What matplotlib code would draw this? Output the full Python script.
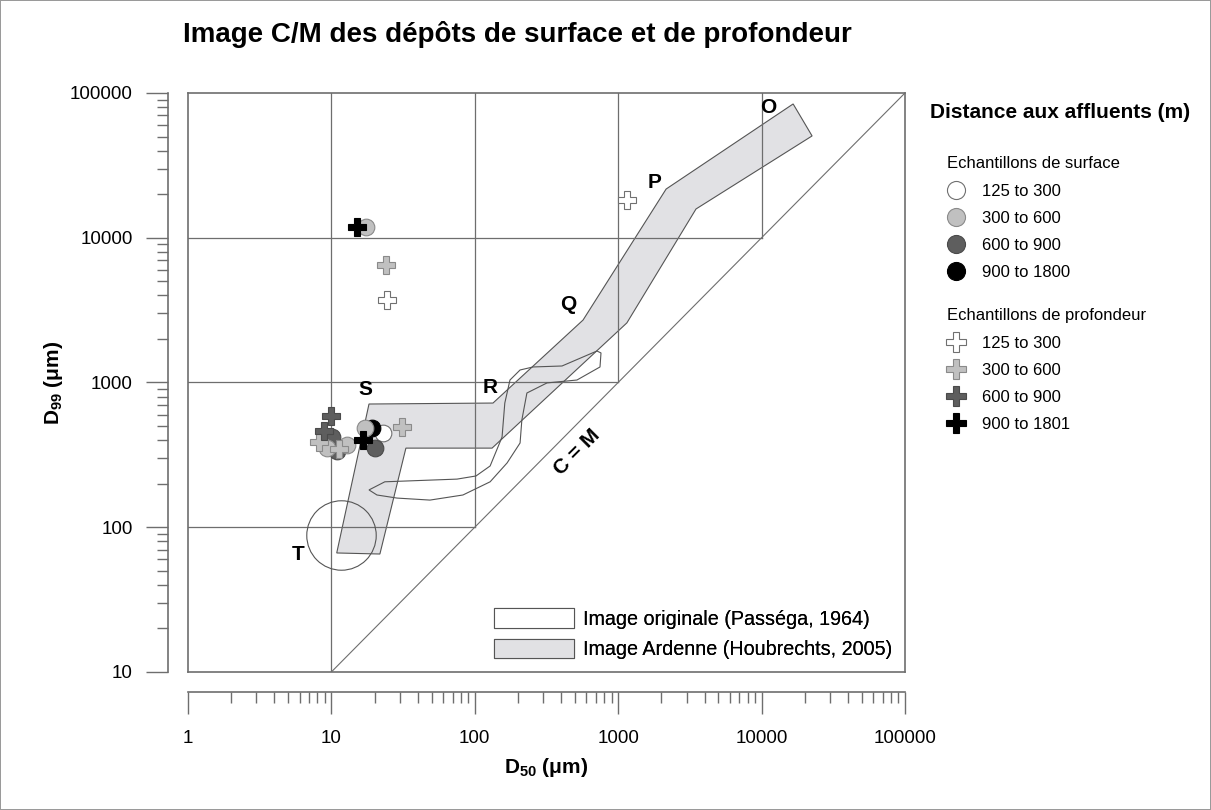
import matplotlib.pyplot as plt
from matplotlib.lines import Line2D
from matplotlib.patches import Polygon, Patch
from matplotlib.ticker import LogLocator, NullFormatter, FuncFormatter

plt.rcParams["font.family"] = ["Liberation Sans", "DejaVu Sans"]
plt.rcParams["mathtext.fontset"] = "custom"
plt.rcParams["mathtext.rm"] = "Liberation Sans"
plt.rcParams["mathtext.it"] = "Liberation Sans:italic"
plt.rcParams["mathtext.bf"] = "Liberation Sans:bold"

# --- données (D50, D99 en µm) ---
classes_surface = ["125 to 300", "300 to 600", "600 to 900", "900 to 1800"]
classes_profondeur = ["125 to 300", "300 to 600", "600 to 900", "900 to 1801"]
couleurs = ["#ffffff", "#c0c0c0", "#5e5e5e", "#000000"]
bords = ["#707070", "#8a8a8a", "#4a4a4a", "#000000"]

# échantillons de surface (cercles)
surf_125_d50 = [22.9]
surf_125_d99 = [448]
surf_300_d50 = [17.4, 17.2, 12.8, 9.3]
surf_300_d99 = [11860, 485, 370, 352]
surf_600_d50 = [20.1, 10.9, 10.1]
surf_600_d99 = [352, 336, 420]
surf_900_d50 = [19.2]
surf_900_d99 = [485]

# échantillons de profondeur (croix)
prof_125_d50 = [24.4, 1151]
prof_125_d99 = [3715, 18230]
prof_300_d50 = [24.0, 31.1, 8.2, 11.3]
prof_300_d99 = [6480, 493, 388, 345]
prof_600_d50 = [9.94, 8.88]
prof_600_d99 = [587, 462]
prof_900_d50 = [15.1, 16.6]
prof_900_d99 = [11860, 401]

# image Ardenne (Houbrechts, 2005)
ardenne_d50 = [10.9, 18.3, 134, 569, 2160, 16600, 22500, 3490, 1150, 132, 33.1, 21.8]
ardenne_d99 = [66.4, 710, 721, 2700, 21700, 84000, 50500, 15800, 2580, 352, 352, 65.3]

# image originale (Passéga, 1964)
passega_d50 = [18.3, 23.6, 75.2, 102, 128, 155, 162, 176, 207, 255, 406, 711, 759, 747,
               516, 319, 231, 213, 207, 168, 128, 82.7, 48.7, 28.7, 20.8]
passega_d99 = [181, 206, 215, 226, 265, 420, 721, 1040, 1220, 1280, 1300, 1650, 1600, 1280,
               1040, 993, 846, 551, 382, 278, 206, 167, 154, 159, 167]
passega_t_d50 = [11.7]
passega_t_d99 = [88.4]

limites = [10, 100, 1000, 10000]

lettres = ["O", "P", "Q", "R", "S", "T"]
lettres_d50 = [11100, 1806, 447, 128, 17.2, 5.85]
lettres_d99 = [80000, 23900, 3430, 916, 888, 64.3]

fig = plt.figure(figsize=(12.11, 8.10), dpi=100)
fig.patch.set_edgecolor("#9a9a9a")
fig.patch.set_linewidth(1.2)
ax = fig.add_axes([0.1552, 0.1704, 0.5921, 0.7148])
ax.set_xscale("log")
ax.set_yscale("log")
ax.set_xlim(1, 1e5)
ax.set_ylim(10, 1e5)

grille = "#6e6e6e"
# cadre du diagramme C/M
for v in limites:
    ax.plot([v, v], [v, 1e5], color=grille, lw=0.9, zorder=2)
    if v > 10:
        ax.plot([1, v], [v, v], color=grille, lw=0.9, zorder=2)
ax.plot([10, 1e5], [10, 1e5], color=grille, lw=0.8, zorder=2)
ax.axhline(10, color=grille, lw=1.2, clip_on=False, zorder=2)
ax.axvline(1, color=grille, lw=1.2, clip_on=False, zorder=2)

ax.add_patch(Polygon(list(zip(ardenne_d50, ardenne_d99)), closed=True,
                     facecolor="#e1e1e4", edgecolor="#555555", lw=0.8, zorder=1))
ax.add_patch(Polygon(list(zip(passega_d50, passega_d99)), closed=True,
                     facecolor="none", edgecolor="#555555", lw=0.8, zorder=3))
ax.plot(passega_t_d50, passega_t_d99, "o", ms=50, mfc="none", mec="#555555", mew=0.8, zorder=3)

for txt, x, y in zip(lettres, lettres_d50, lettres_d99):
    ax.text(x, y, txt, fontsize=15, fontweight="bold", ha="center", va="center", zorder=5)
ax.text(516, 331, "C = M", fontsize=15, fontweight="bold", rotation=45,
        ha="center", va="center", zorder=5)

# points (ordre de tracé pour reproduire les recouvrements)
surf = [(surf_125_d50, surf_125_d99), (surf_300_d50, surf_300_d99),
        (surf_600_d50, surf_600_d99), (surf_900_d50, surf_900_d99)]
prof = [(prof_125_d50, prof_125_d99), (prof_300_d50, prof_300_d99),
        (prof_600_d50, prof_600_d99), (prof_900_d50, prof_900_d99)]
for i in [0, 3, 2, 1]:
    ax.plot(surf[i][0], surf[i][1], "o", ms=12, mfc=couleurs[i], mec=bords[i],
            mew=0.8, zorder=6)
for i in [0, 1, 2, 3]:
    ax.plot(prof[i][0], prof[i][1], "P", ms=13, mfc=couleurs[i], mec=bords[i],
            mew=0.8, zorder=7)

# axes décalés
for s in ["left", "bottom"]:
    ax.spines[s].set_position(("outward", 14.4))
for s in ax.spines.values():
    s.set_color(grille)
    s.set_linewidth(1.2)
fmt = FuncFormatter(lambda v, p: f"{int(round(v))}")
for axis in [ax.xaxis, ax.yaxis]:
    axis.set_major_locator(LogLocator(base=10, numticks=10))
    axis.set_minor_locator(LogLocator(base=10, subs=range(2, 10), numticks=10))
    axis.set_minor_formatter(NullFormatter())
    axis.set_major_formatter(fmt)
ax.tick_params(which="major", length=15.5, width=1, color=grille, labelsize=13.5)
ax.tick_params(which="minor", length=8, width=1, color=grille)
ax.tick_params(axis="x", which="major", pad=12)
ax.tick_params(axis="y", which="major", pad=10)

ax.set_xlabel(r"$\mathbf{D_{50}}$ $\mathbf{(\mu m)}$", fontsize=15, labelpad=6)
ax.set_ylabel(r"$\mathbf{D_{99}}$ $\mathbf{(\mu m)}$", fontsize=15, labelpad=3)

fig.text(183 / 1211, 1 - 35 / 810, "Image C/M des dépôts de surface et de profondeur",
         fontsize=20, fontweight="bold", va="center", ha="left")

# légende des images
poly_handles = [Patch(facecolor="white", edgecolor="#555555", lw=0.8),
                Patch(facecolor="#e1e1e4", edgecolor="#555555", lw=0.8)]
leg0 = ax.legend(poly_handles, ["Image originale (Passéga, 1964)", "Image Ardenne (Houbrechts, 2005)"],
                 loc="lower right", frameon=False, fontsize=14.2, handlelength=4.05,
                 handleheight=1.15, handletextpad=0.45, borderaxespad=0.25, labelspacing=0.5)
ax.add_artist(leg0)

# légende des distances
fig.text(930 / 1211, 1 - 112 / 810, "Distance aux affluents (m)", fontsize=15,
         fontweight="bold", va="center", ha="left")
h_surf = [Line2D([], [], ls="", marker="o", ms=13, mfc=couleurs[i], mec=bords[i], mew=0.8)
          for i in range(4)]
h_prof = [Line2D([], [], ls="", marker="P", ms=14, mfc=couleurs[i], mec=bords[i], mew=0.8)
          for i in range(4)]
leg1 = fig.legend(h_surf, classes_surface, title="Echantillons de surface", loc="upper left",
                  bbox_to_anchor=(939 / 1211, 1 - 148 / 810), frameon=False, fontsize=12,
                  title_fontsize=12, alignment="left", handlelength=1.0, handletextpad=1.1,
                  labelspacing=0.73, borderpad=0)
leg2 = fig.legend(h_prof, classes_profondeur, title="Echantillons de profondeur", loc="upper left",
                  bbox_to_anchor=(939 / 1211, 1 - 300 / 810), frameon=False, fontsize=12,
                  title_fontsize=12, alignment="left", handlelength=1.0, handletextpad=1.1,
                  labelspacing=0.73, borderpad=0)

fig.savefig("out.png", dpi=100)
